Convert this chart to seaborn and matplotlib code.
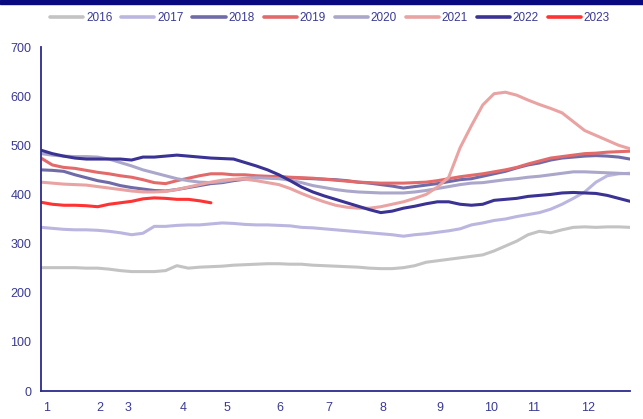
import numpy as np
import pandas as pd
import matplotlib
matplotlib.use("Agg")
import matplotlib.pyplot as plt
import seaborn as sns
from matplotlib.patches import Rectangle
from matplotlib import font_manager

years = ["2016", "2017", "2018", "2019", "2020", "2021", "2022", "2023"]
weeks = list(range(53))

y2016 = [251, 251, 251, 251, 250, 250, 248, 245, 243, 243, 243, 245, 255, 250, 252, 253, 254, 256, 257, 258,
         259, 259, 258, 258, 256, 255, 254, 253, 252, 250, 249, 249, 251, 255, 262, 265, 268, 271, 274, 277,
         285, 295, 305, 318, 325, 322, 328, 333, 334, 333, 334, 334, 333]
y2017 = [333, 331, 329, 328, 328, 327, 325, 322, 318, 321, 335, 335, 337, 338, 338, 340, 342, 341, 339, 338,
         338, 337, 336, 333, 332, 330, 328, 326, 324, 322, 320, 318, 315, 318, 320, 323, 326, 330, 338, 342,
         347, 350, 355, 359, 363, 370, 380, 392, 405, 425, 438, 442, 443]
y2018 = [450, 449, 447, 440, 434, 428, 424, 418, 414, 411, 408, 407, 410, 414, 418, 422, 424, 428, 431, 434,
         436, 436, 434, 433, 432, 431, 430, 428, 425, 423, 420, 417, 413, 416, 419, 422, 426, 430, 432, 437,
         442, 447, 454, 460, 464, 470, 474, 476, 478, 479, 478, 476, 472]
y2019 = [474, 460, 455, 453, 449, 445, 442, 438, 435, 430, 424, 422, 428, 433, 438, 442, 442, 440, 440, 438,
         437, 436, 435, 434, 433, 431, 429, 427, 425, 424, 423, 423, 423, 424, 425, 428, 432, 436, 439, 442,
         446, 450, 455, 462, 468, 474, 477, 480, 483, 484, 486, 487, 488]
y2020 = [483, 480, 478, 477, 477, 476, 472, 465, 458, 450, 444, 438, 432, 428, 425, 424, 426, 430, 433, 434,
         433, 432, 429, 424, 418, 414, 410, 407, 405, 404, 403, 403, 403, 405, 408, 412, 416, 420, 423, 424,
         427, 430, 432, 435, 437, 440, 443, 446, 446, 445, 444, 443, 442]
y2021 = [425, 423, 421, 420, 419, 416, 413, 410, 407, 405, 405, 406, 410, 415, 420, 425, 429, 431, 431, 428,
         424, 420, 412, 402, 393, 385, 378, 374, 372, 372, 375, 380, 385, 392, 400, 415, 435, 495, 540, 582,
         605, 608, 602, 592, 583, 575, 566, 548, 530, 520, 510, 500, 493]
y2022 = [490, 483, 478, 474, 472, 472, 472, 472, 470, 476, 476, 478, 480, 478, 476, 474, 473, 472, 465, 458,
         450, 440, 428, 415, 405, 397, 390, 383, 376, 369, 363, 366, 372, 376, 381, 385, 385, 380, 378, 380,
         388, 390, 392, 396, 398, 400, 403, 404, 403, 402, 398, 392, 386]
y2023 = [384, 380, 378, 378, 377, 375, 380, 383, 386, 391, 393, 392, 390, 390, 387, 383]

month_labels = ["1", "2", "3", "4", "5", "6", "7", "8", "9", "10", "11", "12"]
month_label_pos = [0.2, 4.85, 7.4, 12.2, 16.1, 20.8, 25.1, 29.9, 34.9, 39.1, 42.9, 47.7]

colors = ["#c3c3c3", "#bab6e0", "#6f6ba8", "#e36a6a", "#aaa7ca", "#e9a3a3", "#3a3393", "#ff3333"]
navy = "#2b2b8c"
text_c = "#3a3a95"

series = [y2016, y2017, y2018, y2019, y2020, y2021, y2022, y2023]
frames = []
for yr, vals in zip(years, series):
    frames.append(pd.DataFrame({"week": weeks[:len(vals)], "value": vals, "year": yr}))
df = pd.concat(frames, ignore_index=True)

sns.set_style("white")
names = {f.name for f in font_manager.fontManager.ttflist}
fam = ["Liberation Sans Narrow", "DejaVu Sans"] if "Liberation Sans Narrow" in names else ["Liberation Sans", "DejaVu Sans"]
plt.rcParams["font.family"] = fam

fig = plt.figure(figsize=(6.43, 4.19), dpi=100)
ax = fig.add_axes([41 / 643, 1 - 391 / 419, (630 - 41) / 643, (391 - 47) / 419])

sns.lineplot(data=df, x="week", y="value", hue="year", palette=dict(zip(years, colors)),
             hue_order=years, linewidth=2.2, ax=ax, legend=False)

ax.set_xlim(0, 52)
ax.set_ylim(0, 700)
ax.set_xlabel("")
ax.set_ylabel("")
for s in ["top", "right"]:
    ax.spines[s].set_visible(False)
for s in ["left", "bottom"]:
    ax.spines[s].set_color(navy)
    ax.spines[s].set_linewidth(1.3)

ax.set_yticks(range(0, 701, 100))
ax.tick_params(axis="y", direction="in", length=4, width=1.2, color=navy, labelcolor=text_c,
               labelsize=9, pad=7)
ax.set_xticks(np.linspace(0, 52, 13))
ax.set_xticklabels([])
ax.tick_params(axis="x", which="major", direction="in", length=4, width=1.2, color=navy)
ax.set_xticks(month_label_pos, minor=True)
ax.set_xticklabels(month_labels, minor=True)
ax.tick_params(axis="x", which="minor", length=0, labelcolor=text_c, labelsize=9, pad=8)
for lab in ax.get_xticklabels(minor=True):
    lab.set_horizontalalignment("left")
ax.grid(False)

fig.patches.append(Rectangle((0, 1 - 4 / 419), 1, 4 / 419, transform=fig.transFigure,
                             color="#0a0a80", zorder=10))

handles = [plt.Line2D([], [], color=c, lw=2.6) for c in colors]
leg = fig.legend(handles, years, loc="center", bbox_to_anchor=(330 / 643, 1 - 18 / 419), ncol=8,
                 frameon=False, fontsize=8.5, handlelength=2.8, handletextpad=0.25, columnspacing=0.75)
for t in leg.get_texts():
    t.set_color(text_c)

fig.savefig("out.png", dpi=100)
